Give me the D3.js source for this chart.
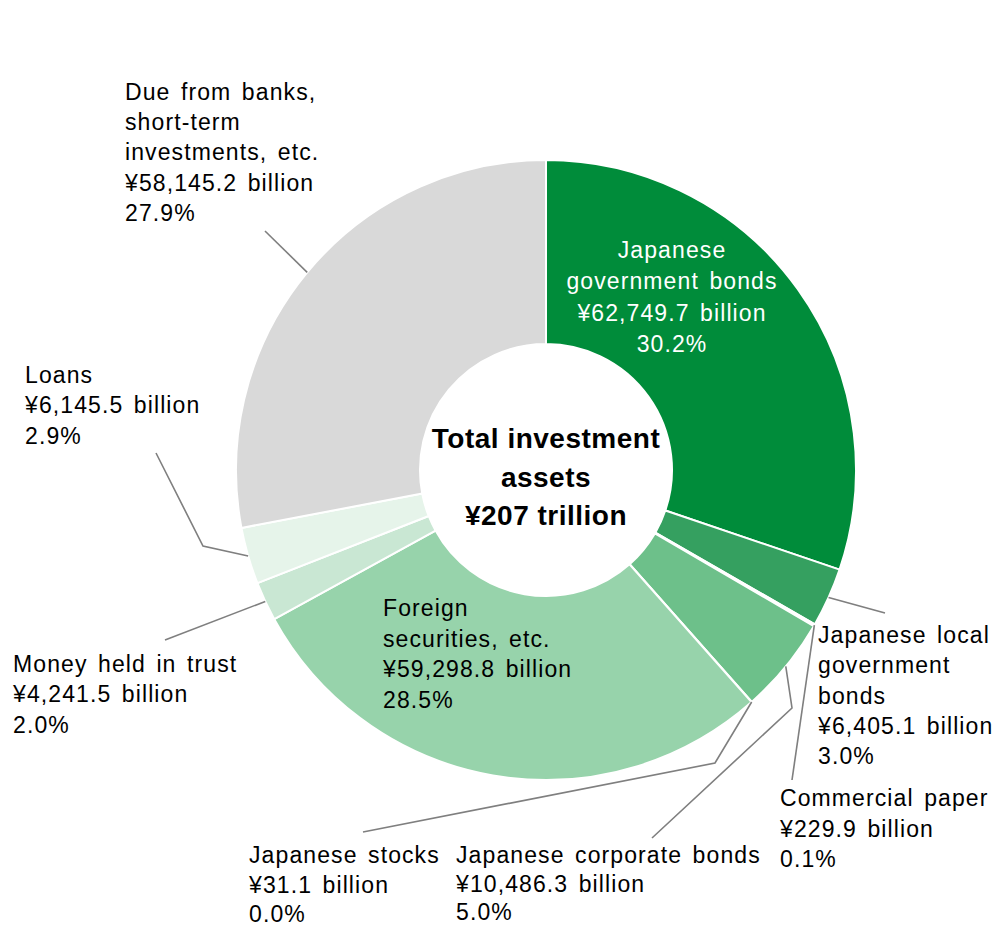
<!DOCTYPE html>
<html>
<head>
<meta charset="utf-8">
<script src="https://cdn.jsdelivr.net/npm/d3@7"></script>
<style>
  html, body { margin: 0; padding: 0; background: #fff; }
  svg { display: block; }
  text { font-family: Arial, "Liberation Sans", sans-serif; }
</style>
</head>
<body>
<svg id="chart" width="997" height="930"></svg>
<script>
// Investment asset breakdown (¥ billion), clockwise from 12 o'clock
const categories = [
  "Japanese\ngovernment bonds",
  "Japanese local\ngovernment\nbonds",
  "Commercial paper",
  "Japanese corporate bonds",
  "Japanese stocks",
  "Foreign\nsecurities, etc.",
  "Money held in trust",
  "Loans",
  "Due from banks,\nshort-term\ninvestments, etc."
];
const values = [62749.7, 6405.1, 229.9, 10486.3, 31.1, 59298.8, 4241.5, 6145.5, 58145.2];
const shares = ["30.2%", "3.0%", "0.1%", "5.0%", "0.0%", "28.5%", "2.0%", "2.9%", "27.9%"];
const centerTitle = ["Total investment", "assets", "¥207 trillion"];

const colors = ["#008C3A", "#35A060", "#D9D9D9", "#6DC08A", "#CFE9D8", "#97D3AB", "#C9E7D3", "#E6F4EA", "#D9D9D9"];

// Label placement: first baseline, line step, and leader-line bends (absolute px)
const labelLayout = [
  { x: 672, y: 258, step: 31.3, anchor: "middle", fill: "#fff", inside: true },
  { x: 818, y: 643, step: 30.3, anchor: "start", pts: [[885, 613]] },
  { x: 780, y: 806, step: 30.5, anchor: "start", pts: [[792, 780]] },
  { x: 456, y: 863, step: 28.5, anchor: "start", pts: [[792, 708], [652, 838]] },
  { x: 249, y: 863, step: 29.5, anchor: "start", pts: [[715, 763], [363, 832]] },
  { x: 383, y: 616, step: 30.5, anchor: "start", fill: "#000", inside: true },
  { x: 13, y: 672, step: 30.3, anchor: "start", pts: [[165, 640]] },
  { x: 25, y: 383, step: 30.3, anchor: "start", pts: [[203, 546], [156, 453]] },
  { x: 125, y: 100, step: 30.2, anchor: "start", pts: [[265, 231]] }
];

const cx = 546, cy = 470, rOuter = 310, rInner = 126;
const fmt = d3.format(",.1f");

const svg = d3.select("#chart");
const g = svg.append("g").attr("transform", `translate(${cx},${cy})`);

const pie = d3.pie().sort(null).value(d => d.value);
const arcs = pie(values.map((v, i) => ({ value: v, i })));

const arc = d3.arc().innerRadius(rInner).outerRadius(rOuter);
const edge = d3.arc().innerRadius(rOuter).outerRadius(rOuter);

g.selectAll("path.slice")
  .data(arcs)
  .join("path")
  .attr("class", "slice")
  .attr("d", arc)
  .attr("fill", d => colors[d.data.i])
  .attr("stroke", "#fff")
  .attr("stroke-width", 2)
  .attr("stroke-linejoin", "round");

// Leader lines from slice edge to the outside labels
const leaders = svg.append("g")
  .attr("fill", "none")
  .attr("stroke", "#7F7F7F")
  .attr("stroke-width", 1.6);
arcs.forEach(d => {
  const L = labelLayout[d.data.i];
  if (!L.pts) return;
  const [ax, ay] = edge.centroid(d);
  const pts = [[cx + ax, cy + ay], ...L.pts];
  leaders.append("path").attr("d", d3.line()(pts));
});

// Category labels
arcs.forEach(d => {
  const i = d.data.i;
  const L = labelLayout[i];
  const lines = categories[i].split("\n")
    .concat([`¥${fmt(values[i])} billion`, shares[i]]);
  const t = svg.append("text")
    .attr("x", L.x)
    .attr("y", L.y)
    .attr("text-anchor", L.anchor)
    .attr("fill", L.fill || "#000")
    .style("font-size", "23px")
    .style("letter-spacing", "1.1px")
    .style("word-spacing", "3px");
  lines.forEach((s, k) => {
    t.append("tspan")
      .attr("x", L.x)
      .attr("y", L.y + k * L.step)
      .text(s);
  });
});

// Center total
const ct = g.append("text")
  .attr("text-anchor", "middle")
  .attr("fill", "#000")
  .style("font-size", "28px")
  .style("font-weight", "bold")
  .style("letter-spacing", "0.5px");
centerTitle.forEach((s, k) => {
  ct.append("tspan")
    .attr("x", 0)
    .attr("y", -22 + k * 38.5)
    .text(s);
});
</script>
</body>
</html>
